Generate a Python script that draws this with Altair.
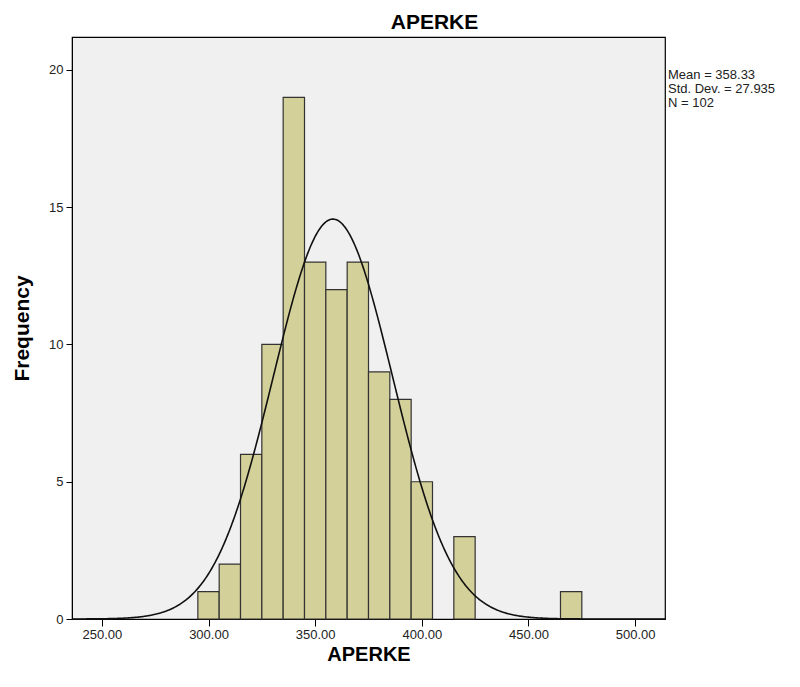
import altair as alt
import pandas as pd

bin_start = [295, 305, 315, 325, 335, 345, 355, 365, 375, 385, 395, 415, 465]
counts = [1, 2, 6, 10, 19, 13, 12, 13, 9, 8, 5, 3, 1]
bin_width = 10
mean_val = 358.33
sd_val = 27.935
n_val = 102
stats_lines = ["Mean = 358.33", "Std. Dev. = 27.935", "N = 102"]
x_ticks = [250, 300, 350, 400, 450, 500]
y_ticks = [0, 5, 10, 15, 20]

bars_df = pd.DataFrame({"start": bin_start, "count": counts})
bars_df["end"] = bars_df["start"] + bin_width
bars_df["base"] = 0

xscale = alt.Scale(domain=[236, 514], nice=False, zero=False)
yscale = alt.Scale(domain=[0, 21.2], nice=False)

FONT = "Liberation Sans"

xaxis = alt.Axis(values=x_ticks, format=".2f", title="APERKE", grid=False,
                 domainColor="black", tickColor="black", tickSize=7,
                 labelFont=FONT, labelFontSize=13, labelColor="#222",
                 titleFont=FONT, titleFontSize=20, titleFontWeight="bold",
                 titleColor="black", titlePadding=3, labelPadding=2)
yaxis = alt.Axis(values=y_ticks, title="Frequency", grid=False,
                 domainColor="black", tickColor="black", tickSize=6,
                 labelFont=FONT, labelFontSize=13, labelColor="#222",
                 titleFont=FONT, titleFontSize=21, titleFontWeight="bold",
                 titleColor="black", titlePadding=16, labelPadding=3)

bars = alt.Chart(bars_df).mark_bar(
    fill="#d4d099", stroke="#333333", strokeWidth=1.2
).encode(
    x=alt.X("start:Q", scale=xscale, axis=xaxis),
    x2="end:Q",
    y=alt.Y("count:Q", scale=yscale, axis=yaxis),
    y2="base:Q",
)

curve = alt.Chart(alt.sequence(236, 514.5, 0.5, as_="x")).transform_calculate(
    y=f"{n_val}*{bin_width}/({sd_val}*sqrt(2*PI))*exp(-0.5*pow((datum.x-{mean_val})/{sd_val},2))"
).mark_line(color="#111111", strokeWidth=1.6).encode(
    x=alt.X("x:Q", scale=xscale),
    y=alt.Y("y:Q", scale=yscale),
)

stats_df = pd.DataFrame({"line": stats_lines, "i": list(range(len(stats_lines)))})
stats = alt.Chart(stats_df).transform_calculate(
    py="38 + datum.i * 14"
).mark_text(
    align="left", baseline="middle", font=FONT, fontSize=13, color="#222"
).encode(
    text="line:N",
    x=alt.value(596),
    y=alt.Y("py:Q", scale=None),
)

chart = alt.layer(bars, curve, stats).properties(
    width=593, height=582,
    title=alt.TitleParams("APERKE", font=FONT, fontSize=21, fontWeight="bold",
                          color="black", anchor="middle", dx=66, offset=4),
    autosize=alt.AutoSizeParams(type="none"),
    padding={"left": 64, "top": 29, "right": 127, "bottom": 60},
    background="white",
).configure_view(
    fill="#f0f0f0", stroke="black", strokeWidth=1.2
)

chart.save("out.html", embed_options={"renderer": "svg", "actions": False})
